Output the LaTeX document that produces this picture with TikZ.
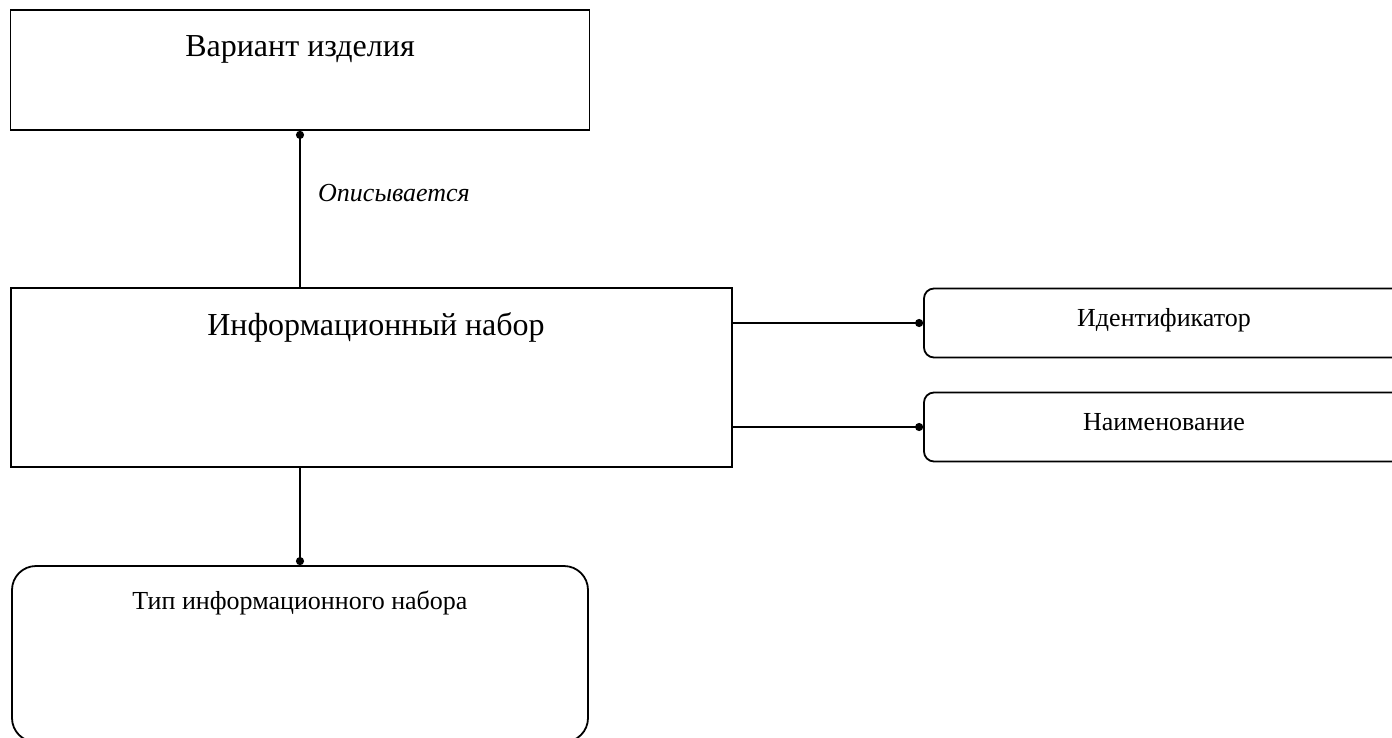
\documentclass[tikz,border=0pt]{standalone}
\usepackage{fontspec}
\setmainfont{Liberation Serif}
\usetikzlibrary{arrows.meta}
\tikzset{
  ent/.style={draw=black, line width=1.8pt, fill=white, inner sep=0pt},
  attr/.style={ent, rounded corners=10pt},
  big/.style={font=\fontsize{32}{36}\selectfont, anchor=base, inner sep=0pt},
  small/.style={font=\fontsize{26}{30}\selectfont, anchor=base, inner sep=0pt},
  conn/.style={line width=2pt, draw=black},
  enddot/.tip={Circle[length=8pt, width=8pt]},
}
\begin{document}
\begin{tikzpicture}[x=1pt, y=-1pt]
\useasboundingbox (0,0) rectangle (1392,738);
\clip (0,0) rectangle (1392,738);
% boxes
\node[ent, minimum width=579pt, minimum height=120pt] (b1) at (300,70) {};
\node[ent, minimum width=721pt, minimum height=179pt] (b2) at (371.5,377.5) {};
\node[attr, minimum width=480pt, minimum height=69pt] (id) at (1164,323) {};
\node[attr, minimum width=480pt, minimum height=69pt] (nm) at (1164,427) {};
\node[ent, rounded corners=24pt, minimum width=576pt, minimum height=176pt] (tp) at (300,654) {};
% texts
\node[big] (b1t) at (300,57) {Вариант изделия};
\node[big] (b2t) at (376,335) {Информационный набор};
\node[small] (idt) at (1164,326) {Идентификатор};
\node[small] (nmt) at (1164,430) {Наименование};
\node[small] (tpt) at (300,609) {Тип информационного набора};
% connectors
\draw[conn, {enddot}-] (b1.south) -- (b2.north -| b1.south);
\node[small, anchor=west, font=\fontsize{26}{30}\selectfont\itshape] (opis) at (318,193) {Описывается};
\draw[conn, -{enddot}] (b2.east |- id.west) -- (id.west);
\draw[conn, -{enddot}] (b2.east |- nm.west) -- (nm.west);
\draw[conn, -{enddot}] (b2.south -| tp.north) -- (tp.north);
\end{tikzpicture}
\end{document}
